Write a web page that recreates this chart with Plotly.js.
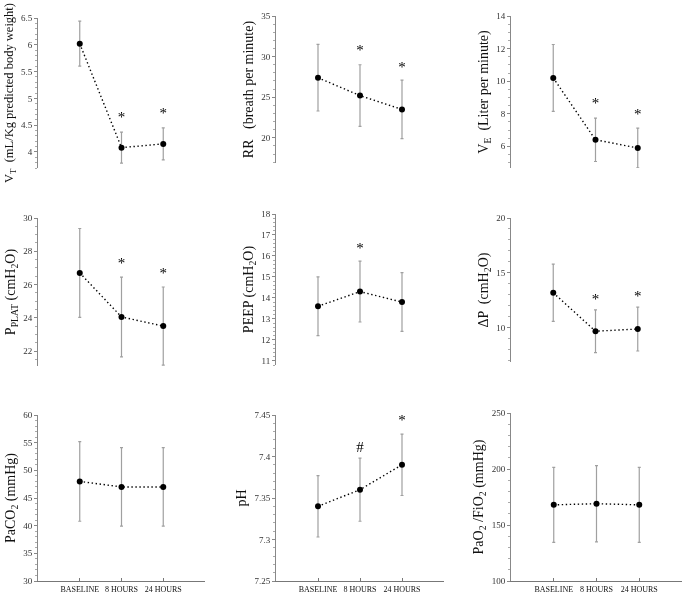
<!DOCTYPE html>
<html>
<head>
<meta charset="utf-8">
<script src="https://cdn.plot.ly/plotly-3.0.1.min.js"></script>
<style>
html,body{margin:0;padding:0;background:#fff;}
#chart{width:685px;height:595px;}
#chart svg{filter:grayscale(100%);}
</style>
</head>
<body>
<div id="chart"></div>
<script>
// ---- data ----
const categories = ['BASELINE', '8 HOURS', '24 HOURS'];

const vtMean = [6.02, 4.08, 4.15];
const vtSd = [0.42, 0.29, 0.30];
const vtSig = ['', '*', '*'];
const vtSigY = [null, 4.63, 4.71];

const rrMean = [27.4, 25.2, 23.5];
const rrSd = [4.1, 3.8, 3.6];
const rrSig = ['', '*', '*'];
const rrSigY = [null, 30.6, 28.6];

const veMean = [10.2, 6.4, 5.9];
const veSd = [2.05, 1.33, 1.22];
const veSig = ['', '*', '*'];
const veSigY = [null, 8.6, 7.9];

const pplatMean = [26.7, 24.05, 23.5];
const pplatSd = [2.67, 2.4, 2.35];
const pplatSig = ['', '*', '*'];
const pplatSigY = [null, 27.2, 26.6];

const peepMean = [13.6, 14.3, 13.8];
const peepSd = [1.4, 1.45, 1.4];
const peepSig = ['', '*', ''];
const peepSigY = [null, 16.33, null];

const dpMean = [13.2, 9.7, 9.9];
const dpSd = [2.6, 1.95, 2.0];
const dpSig = ['', '*', '*'];
const dpSigY = [null, 12.5, 12.8];

const paco2Mean = [48.0, 47.0, 47.0];
const paco2Sd = [7.2, 7.1, 7.1];
const paco2Sig = ['', '', ''];
const paco2SigY = [null, null, null];

const phMean = [7.34, 7.36, 7.39];
const phSd = [0.037, 0.038, 0.037];
const phSig = ['', '#', '*'];
const phSigY = [null, 7.41, 7.442];

const pfMean = [168, 169, 168];
const pfSd = [33.5, 34, 33.5];
const pfSig = ['', '', ''];
const pfSigY = [null, null, null];

const yTitles = [
  'V<sub>T</sub>  (mL/Kg predicted body weight)',
  'RR   (breath per minute)',
  'V<sub>E</sub>  (Liter per minute)',
  'P<sub>PLAT</sub> (cmH<sub>2</sub>O)',
  'PEEP (cmH<sub>2</sub>O)',
  '\u0394P  (cmH<sub>2</sub>O)',
  'PaCO<sub>2</sub> (mmHg)',
  'pH',
  'PaO<sub>2</sub> /FiO<sub>2</sub> (mmHg)'
];

// ---- layout helpers ----
const W = 685, H = 595;
const panels = [
  {m: vtMean, sd: vtSd, sig: vtSig, sy: vtSigY, x: [38, 205], y: [18, 168], r: [3.7, 6.5], dt: 0.5, mdt: 0.1, ts: 12.5},
  {m: rrMean, sd: rrSd, sig: rrSig, sy: rrSigY, x: [276, 444], y: [16, 163], r: [16.9, 35], dt: 5, mdt: 1, ts: 14},
  {m: veMean, sd: veSd, sig: veSig, sy: veSigY, x: [511, 680], y: [16, 168], r: [4.67, 14], dt: 2, mdt: 0.5, ts: 14},
  {m: pplatMean, sd: pplatSd, sig: pplatSig, sy: pplatSigY, x: [38, 205], y: [218, 366], r: [21.1, 30], dt: 2, mdt: 0.5, ts: 14},
  {m: peepMean, sd: peepSd, sig: peepSig, sy: peepSigY, x: [276, 444], y: [214, 365], r: [10.8, 18], dt: 1, mdt: 0.2, ts: 14},
  {m: dpMean, sd: dpSd, sig: dpSig, sy: dpSigY, x: [511, 680], y: [218, 362], r: [6.9, 20], dt: 5, mdt: 1, ts: 14},
  {m: paco2Mean, sd: paco2Sd, sig: paco2Sig, sy: paco2SigY, x: [38, 205], y: [415, 581], r: [30, 60], dt: 5, mdt: 1, ts: 14},
  {m: phMean, sd: phSd, sig: phSig, sy: phSigY, x: [276, 444], y: [415, 581], r: [7.25, 7.45], dt: 0.05, mdt: 0.01, ts: 14},
  {m: pfMean, sd: pfSd, sig: pfSig, sy: pfSigY, x: [511, 682], y: [413, 581], r: [100, 250], dt: 50, mdt: 10, ts: 14}
];

const FONT = 'Liberation Serif, Times New Roman, serif';
const xs = categories.map((c, i) => i);
const data = [];
const layout = {
  width: W, height: H,
  margin: {l: 0, r: 0, t: 0, b: 0},
  paper_bgcolor: '#fff', plot_bgcolor: '#fff',
  showlegend: false,
  font: {family: FONT, color: '#222'}
};

panels.forEach((p, k) => {
  const n = k === 0 ? '' : String(k + 1);
  const xa = 'x' + n, ya = 'y' + n;
  data.push({
    type: 'scatter', mode: 'lines+markers', x: xs, y: p.m, xaxis: xa, yaxis: ya,
    line: {color: '#000', width: 1.4, dash: '1.4px,2.6px'},
    marker: {color: '#000', size: 6},
    error_y: {type: 'data', array: p.sd, visible: true, color: '#a0a0a0', thickness: 1.2, width: 1.5},
    hoverinfo: 'skip', cliponaxis: false
  });
  const idx = xs.filter(i => p.sig[i]);
  if (idx.length) {
    data.push({
      type: 'scatter', mode: 'text',
      x: idx, y: idx.map(i => p.sy[i]), text: idx.map(i => p.sig[i]),
      xaxis: xa, yaxis: ya,
      textposition: 'middle center',
      textfont: {family: FONT, size: 15, color: '#000000'},
      hoverinfo: 'skip', cliponaxis: false
    });
  }
  const bottom = k >= 6;
  layout['xaxis' + n] = {
    domain: [p.x[0] / W, p.x[1] / W], anchor: ya, range: [-1, 3],
    visible: bottom, showgrid: false, zeroline: false,
    showline: bottom, linecolor: '#777', linewidth: 1,
    tickmode: 'array', tickvals: xs, ticktext: categories,
    ticks: 'inside', ticklen: 3, tickcolor: '#777',
    minor: {ticks: 'inside', ticklen: 3, tickcolor: '#777', tick0: -1, dtick: 4, showgrid: false},
    tickfont: {family: FONT, size: 8, color: '#111'}, fixedrange: true
  };
  layout['yaxis' + n] = {
    domain: [1 - p.y[1] / H, 1 - p.y[0] / H], anchor: xa, range: p.r,
    showgrid: false, zeroline: false, showline: true, linecolor: '#888', linewidth: 1,
    ticks: 'outside', ticklen: 3, tickcolor: '#888', dtick: p.dt, tick0: 0,
    minor: {ticks: 'outside', ticklen: 2, tickcolor: '#aaa', dtick: p.mdt, tick0: 0},
    tickfont: {family: FONT, size: 9, color: '#333'},
    title: {text: yTitles[k], font: {family: FONT, size: p.ts, color: '#111'}, standoff: 4},
    automargin: false, fixedrange: true
  };
});

Plotly.newPlot('chart', data, layout, {displayModeBar: false, staticPlot: true});
</script>
</body>
</html>
